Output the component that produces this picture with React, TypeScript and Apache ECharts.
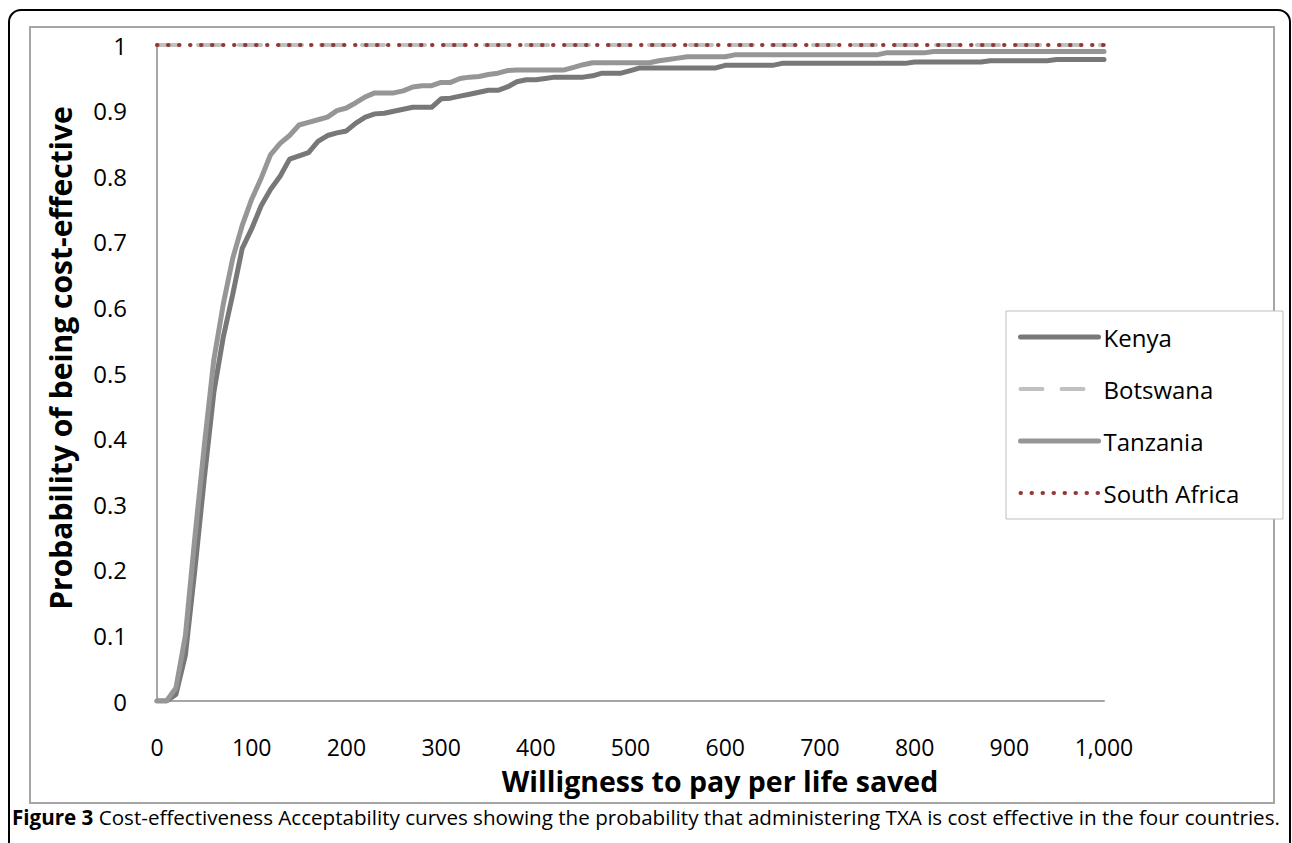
import React, { useEffect, useRef } from "react";
import * as echarts from "echarts";

const xs = [
  0, 10, 20, 30, 40, 50, 60, 70, 80, 90,
  100, 110, 120, 130, 140, 150, 160, 170, 180, 190,
  200, 210, 220, 230, 240, 250, 260, 270, 280, 290,
  300, 310, 320, 330, 340, 350, 360, 370, 380, 390,
  400, 410, 420, 430, 440, 450, 460, 470, 480, 490,
  500, 510, 520, 530, 540, 550, 560, 570, 580, 590,
  600, 610, 620, 630, 640, 650, 660, 670, 680, 690,
  700, 710, 720, 730, 740, 750, 760, 770, 780, 790,
  800, 810, 820, 830, 840, 850, 860, 870, 880, 890,
  900, 910, 920, 930, 940, 950, 960, 970, 980, 990,
  1000,
];

const kenya = [
  0, 0, 0.01, 0.07, 0.2, 0.34, 0.47, 0.555, 0.62, 0.69,
  0.72, 0.755, 0.78, 0.8, 0.826, 0.831, 0.836, 0.853, 0.862, 0.866,
  0.869, 0.881, 0.89, 0.895, 0.896, 0.899, 0.902, 0.905, 0.905, 0.905,
  0.918, 0.919, 0.922, 0.925, 0.928, 0.931, 0.931, 0.936, 0.944, 0.947,
  0.947, 0.949, 0.951, 0.951, 0.951, 0.951, 0.953, 0.957, 0.957, 0.957,
  0.961, 0.965, 0.965, 0.965, 0.965, 0.965, 0.965, 0.965, 0.965, 0.965,
  0.969, 0.969, 0.969, 0.969, 0.969, 0.969, 0.972, 0.972, 0.972, 0.972,
  0.972, 0.972, 0.972, 0.972, 0.972, 0.972, 0.972, 0.972, 0.972, 0.972,
  0.974, 0.974, 0.974, 0.974, 0.974, 0.974, 0.974, 0.974, 0.976, 0.976,
  0.976, 0.976, 0.976, 0.976, 0.976, 0.978, 0.978, 0.978, 0.978, 0.978,
  0.978,
];

const tanzania = [
  0, 0, 0.02, 0.1, 0.25, 0.39, 0.52, 0.605, 0.675, 0.725,
  0.765, 0.797, 0.833, 0.85, 0.862, 0.878, 0.882, 0.886, 0.89, 0.9,
  0.904, 0.912, 0.921, 0.927, 0.927, 0.927, 0.93, 0.936, 0.938, 0.938,
  0.943, 0.943, 0.949, 0.951, 0.952, 0.955, 0.957, 0.961, 0.962, 0.962,
  0.962, 0.962, 0.962, 0.962, 0.966, 0.97, 0.973, 0.973, 0.973, 0.973,
  0.973, 0.973, 0.973, 0.976, 0.978, 0.98, 0.982, 0.982, 0.982, 0.982,
  0.982, 0.985, 0.985, 0.985, 0.985, 0.985, 0.985, 0.985, 0.985, 0.985,
  0.985, 0.985, 0.985, 0.985, 0.985, 0.985, 0.985, 0.988, 0.988, 0.988,
  0.988, 0.988, 0.99, 0.99, 0.99, 0.99, 0.99, 0.99, 0.99, 0.99,
  0.99, 0.99, 0.99, 0.99, 0.99, 0.99, 0.99, 0.99, 0.99, 0.99,
  0.99,
];

const flatX = [0, 1000];
const botswana = [1, 1];
const southAfrica = [1, 1];

const seriesNames = ["Kenya", "Botswana", "Tanzania", "South Africa"];
const yTicks = [0, 0.1, 0.2, 0.3, 0.4, 0.5, 0.6, 0.7, 0.8, 0.9, 1];

const xTitle = "Willigness to pay per life saved";
const yTitle = "Probability of being cost-effective";
const captionBold = "Figure 3";
const captionRest =
  " Cost-effectiveness Acceptability curves showing the probability that administering TXA is cost effective in the four countries.";

const FONT = "'Open Sans', 'DejaVu Sans', sans-serif";

const styles: Record<string, any> = {
  Kenya: { color: "#787878", width: 5, type: "solid" },
  Botswana: { color: "#c0c0c0", width: 4, type: [22, 19] },
  Tanzania: { color: "#969696", width: 5, type: "solid" },
  "South Africa": { color: "#953735", width: 4, type: [0.5, 10.5] },
};

function pairs(x: number[], y: number[]) {
  return x.map((v, i) => [v, y[i]]);
}

export default function App() {
  const ref = useRef<HTMLDivElement>(null);

  useEffect(() => {
    if (!ref.current) return;
    const chart = echarts.init(ref.current, null, { renderer: "svg" });
    const mkSeries = (name: string, data: number[][], z: number) => ({
      name,
      type: "line",
      symbol: "none",
      data,
      lineStyle: {
        color: styles[name].color,
        width: styles[name].width,
        type: styles[name].type,
        cap: "round",
        join: "round",
      },
      itemStyle: { color: styles[name].color },
      z,
    });
    chart.setOption({
      animation: false,
      backgroundColor: "#ffffff",
      textStyle: { fontFamily: FONT },
      grid: { left: 157, right: 188, top: 45, bottom: 142, containLabel: false },
      legend: {
        orient: "vertical",
        left: 1006,
        top: 311,
        padding: [11, 0, 0, 12],
        itemWidth: 78,
        itemHeight: 14,
        itemGap: 22,
        itemStyle: { opacity: 0 },
        data: seriesNames.map((n) => ({
          name: n,
          itemStyle: { opacity: 0 },
          lineStyle: {
            color: styles[n].color,
            width: styles[n].width,
            type: styles[n].type,
            cap: "round",
          },
        })),
        textStyle: { fontFamily: FONT, fontSize: 24, color: "#000", lineHeight: 30 },
      },
      xAxis: {
        type: "value",
        min: 0,
        max: 1000,
        interval: 100,
        splitLine: { show: false },
        axisTick: { show: false },
        axisLine: { show: true, onZero: false, lineStyle: { color: "#a6a6a6", width: 2 } },
        axisLabel: {
          margin: 34,
          fontSize: 23,
          lineHeight: 23,
          fontFamily: FONT,
          color: "#000",
          formatter: (v: number) => v.toLocaleString("en-US"),
        },
      },
      yAxis: {
        type: "value",
        min: 0,
        max: 1,
        interval: 0.1,
        splitLine: { show: false },
        axisTick: { show: false },
        axisLine: { show: true, lineStyle: { color: "#a6a6a6", width: 2 } },
        axisLabel: {
          margin: 30,
          fontSize: 24,
          fontFamily: FONT,
          color: "#000",
          formatter: (v: number) => {
            const t = yTicks.find((k) => Math.abs(k - v) < 1e-6);
            return t === undefined ? "" : String(Math.round(t * 10) / 10);
          },
        },
      },
      series: [
        mkSeries("Kenya", pairs(xs, kenya), 3),
        mkSeries("Botswana", pairs(flatX, botswana), 2),
        mkSeries("Tanzania", pairs(xs, tanzania), 4),
        mkSeries("South Africa", pairs(flatX, southAfrica), 5),
      ],
      graphic: [
        {
          type: "rect",
          silent: true,
          z: -1,
          shape: { x: 9, y: 10, width: 1281, height: 900, r: 12 },
          style: { fill: "none", stroke: "#000", lineWidth: 2 },
        },
        {
          type: "rect",
          silent: true,
          z: -1,
          shape: { x: 30, y: 27, width: 1244, height: 776 },
          style: { fill: "none", stroke: "#a6a6a6", lineWidth: 2 },
        },
        {
          type: "rect",
          silent: true,
          z: -1,
          shape: { x: 1006, y: 311, width: 277, height: 208 },
          style: { fill: "#fff", stroke: "#bfbfbf", lineWidth: 1 },
        },
        {
          type: "text",
          silent: true,
          x: 720,
          y: 781,
          style: {
            text: xTitle,
            fontFamily: FONT,
            fontSize: 28.5,
            fontWeight: "bold",
            fill: "#000",
            align: "center",
            verticalAlign: "middle",
          },
        },
        {
          type: "text",
          silent: true,
          x: 60,
          y: 358,
          rotation: Math.PI / 2,
          style: {
            text: yTitle,
            fontFamily: FONT,
            fontSize: 30,
            fontWeight: "bold",
            fill: "#000",
            align: "center",
            verticalAlign: "middle",
          },
        },
        {
          type: "text",
          silent: true,
          x: 12,
          y: 817,
          style: {
            text: "{b|" + captionBold + "}" + captionRest,
            fontFamily: FONT,
            fontSize: 20.6,
            fill: "#000",
            verticalAlign: "middle",
            rich: { b: { fontWeight: "bold", fontFamily: FONT, fontSize: 20.6, fill: "#000" } },
          },
        },
      ],
    });
    return () => chart.dispose();
  }, []);

  return (
    <div
      ref={ref}
      style={{ position: "fixed", left: 0, top: 0, width: 1292, height: 843 }}
    />
  );
}
